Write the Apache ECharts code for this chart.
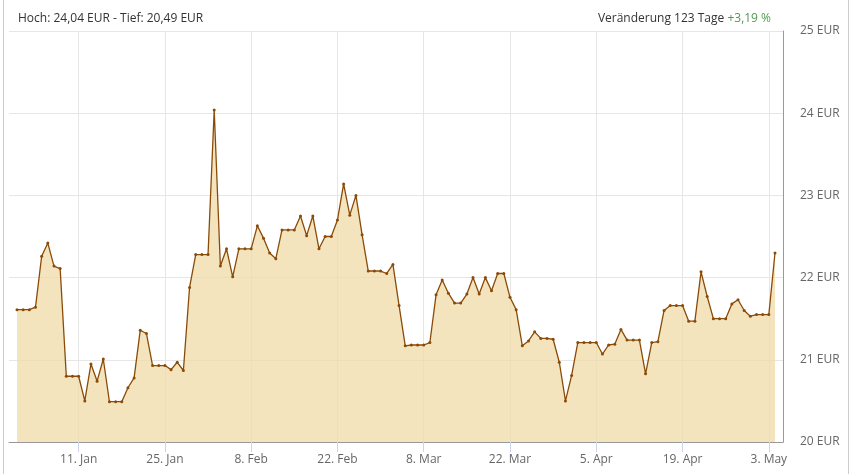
<!DOCTYPE html>
<html>
<head>
<meta charset="utf-8">
<script src="https://cdn.jsdelivr.net/npm/echarts@6/dist/echarts.min.js"></script>
<style>
  html, body { margin: 0; padding: 0; background: #fff; }
  #chart { width: 850px; height: 474px; }
</style>
</head>
<body>
<div id="chart"></div>
<script>
// daily closing prices, 1 Jan .. 4 May (index 0 = 1. Jan)
const prices = [
  21.61, 21.61, 21.61, 21.64, 22.26, 22.42, 22.14, 22.11, 20.80, 20.80,
  20.80, 20.50, 20.95, 20.74, 21.01, 20.49, 20.49, 20.49, 20.66, 20.78,
  21.36, 21.32, 20.93, 20.93, 20.93, 20.88, 20.97, 20.87, 21.88, 22.28,
  22.28, 22.28, 24.04, 22.14, 22.35, 22.01, 22.35, 22.35, 22.35, 22.63,
  22.48, 22.30, 22.23, 22.58, 22.58, 22.58, 22.75, 22.51, 22.75, 22.35,
  22.50, 22.50, 22.70, 23.14, 22.76, 23.00, 22.52, 22.08, 22.08, 22.08,
  22.05, 22.16, 21.66, 21.17, 21.18, 21.18, 21.18, 21.21, 21.79, 21.97,
  21.81, 21.69, 21.69, 21.80, 22.00, 21.80, 22.00, 21.84, 22.05, 22.05,
  21.76, 21.61, 21.17, 21.23, 21.34, 21.26, 21.26, 21.25, 20.97, 20.50,
  20.81, 21.21, 21.21, 21.21, 21.21, 21.07, 21.18, 21.19, 21.37, 21.24,
  21.24, 21.24, 20.83, 21.21, 21.22, 21.60, 21.66, 21.66, 21.66, 21.47,
  21.47, 22.07, 21.77, 21.50, 21.50, 21.50, 21.68, 21.73, 21.60, 21.53,
  21.55, 21.55, 21.55, 22.30
];

const tickDays = [10, 24, 38, 52, 66, 80, 94, 108, 122];
const tickLabels = ['11. Jan', '25. Jan', '8. Feb', '22. Feb', '8. Mar',
  '22. Mar', '5. Apr', '19. Apr', '3. May'];

const chart = echarts.init(document.getElementById('chart'));

const seriesData = prices.map((p, i) => [i, p]);

let option = {
  animation: false,
  textStyle: { fontFamily: 'Open Sans' },
  title: [
    {
      text: 'Hoch: 24,04 EUR - Tief: 20,49 EUR',
      left: 13,
      top: 8,
      textStyle: { fontSize: 12, fontWeight: 'normal', color: '#333', fontFamily: 'Open Sans' }
    },
    {
      text: 'Veränderung 123 Tage {g|+3,19 %}',
      right: 74,
      top: 8,
      textStyle: {
        fontSize: 12, fontWeight: 'normal', color: '#333', fontFamily: 'Open Sans',
        rich: { g: { color: '#4f9a4f', fontSize: 12, fontFamily: 'Open Sans' } }
      }
    }
  ],
  graphic: [
    { type: 'line', shape: { x1: 3.5, y1: 0, x2: 3.5, y2: 474 }, style: { stroke: '#ccc', lineWidth: 1 } },
    { type: 'line', shape: { x1: 848.5, y1: 0, x2: 848.5, y2: 474 }, style: { stroke: '#ccc', lineWidth: 1 } }
  ],
  grid: { left: 9, right: 67, top: 31, bottom: 32 },
  xAxis: {
    type: 'value',
    min: -1.3,
    max: 124.3,
    axisLine: { show: true, onZero: false, lineStyle: { color: '#999' } },
    axisTick: {
      show: true, length: 10, customValues: tickDays,
      lineStyle: { color: '#ccd6eb' }
    },
    axisLabel: {
      customValues: tickDays,
      formatter: v => tickLabels[tickDays.indexOf(Math.round(v))] || '',
      color: '#666', fontSize: 12, margin: 12
    },
    splitLine: { show: false }
  },
  yAxis: {
    type: 'value',
    position: 'right',
    min: 20,
    max: 25,
    interval: 1,
    axisLine: { show: true, onZero: false, lineStyle: { color: '#999' } },
    axisTick: { show: false },
    axisLabel: { formatter: '{value} EUR', color: '#666', fontSize: 12, margin: 17 },
    splitLine: { show: true, lineStyle: { color: '#e6e6e6' } }
  },
  series: [
    {
      // vertical grid lines at the labelled dates
      type: 'line',
      data: [],
      z: 1,
      silent: true,
      markLine: {
        z: 1,
        silent: true,
        symbol: 'none',
        label: { show: false },
        lineStyle: { color: '#e6e6e6', type: 'solid', width: 1 },
        data: tickDays.map(d => ({ xAxis: d }))
      }
    },
    {
      type: 'line',
      data: seriesData,
      z: 3,
      symbol: 'circle',
      symbolSize: 3,
      showAllSymbol: true,
      lineStyle: { color: '#8a4b08', width: 1.3 },
      itemStyle: { color: '#8a4b08' },
      areaStyle: { color: 'rgba(239,219,167,0.75)', opacity: 1 }
    }
  ]
};

chart.setOption(option);
</script>
</body>
</html>
